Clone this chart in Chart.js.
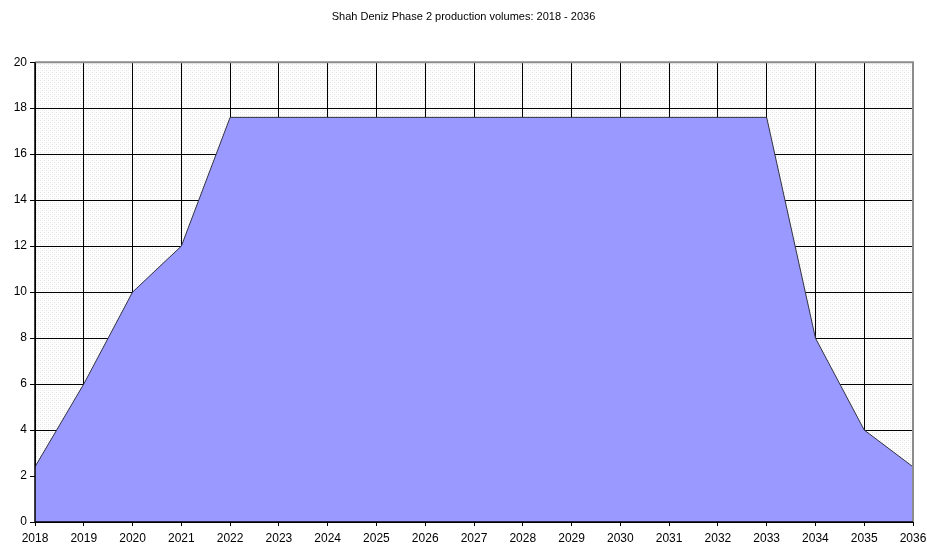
<!DOCTYPE html>
<html>
<head>
<meta charset="utf-8">
<script src="https://cdn.jsdelivr.net/npm/chart.js@4"></script>
<style>
  html, body { margin: 0; padding: 0; background: #fff; }
  #wrap { width: 927px; height: 545px; }
</style>
</head>
<body>
<div id="wrap"><canvas id="chartGas"></canvas></div>
<script>
// data
const years = ['2018','2019','2020','2021','2022','2023','2024','2025','2026','2027',
  '2028','2029','2030','2031','2032','2033','2034','2035','2036']
const volumes = [2.4, 6, 10, 12, 17.6, 17.6, 17.6, 17.6, 17.6, 17.6,
  17.6, 17.6, 17.6, 17.6, 17.6, 17.6, 8, 4, 2.4]
const subtitleText = 'Shah Deniz Phase 2 production volumes: 2018 - 2036'

// small dotted pattern for the plot background
makePattern = function(){
  const c = document.createElement('canvas')
  c.width = 4; c.height = 4
  const ctx = c.getContext('2d')
  ctx.fillStyle = '#ffffff'
  ctx.fillRect(0, 0, 4, 4)
  ctx.fillStyle = '#e4e4e4'
  ctx.fillRect(0, 0, 1, 1)
  ctx.fillRect(2, 2, 1, 1)
  ctx.fillStyle = '#f0f0f0'
  ctx.fillRect(2, 0, 1, 1)
  ctx.fillRect(0, 2, 1, 1)
  return c
}

const plotBg = {
  id: 'plotBg',
  beforeDraw(chart){
    const {ctx, chartArea: a} = chart
    ctx.save()
    ctx.fillStyle = ctx.createPattern(makePattern(), 'repeat')
    ctx.fillRect(a.left, a.top, a.right - a.left, a.bottom - a.top)
    ctx.restore()
  },
  afterDraw(chart){
    const {ctx, chartArea: a} = chart
    ctx.save()
    ctx.strokeStyle = '#8c8c8c'
    ctx.lineWidth = 2
    ctx.beginPath()
    ctx.moveTo(a.left, a.top)
    ctx.lineTo(a.right, a.top)
    ctx.lineTo(a.right, a.bottom)
    ctx.stroke()
    ctx.strokeStyle = '#000'
    ctx.lineWidth = 1.5
    ctx.beginPath()
    ctx.moveTo(a.left, a.top)
    ctx.lineTo(a.left, a.bottom)
    ctx.lineTo(a.right, a.bottom)
    ctx.stroke()
    ctx.restore()
  }
}

const tickFont = { family: 'Arial, "Liberation Sans", sans-serif', size: 12 }

const chartGas = {
  type: 'line',
  data: {
    labels: years,
    datasets: [{
      data: volumes,
      fill: 'origin',
      backgroundColor: '#9999ff',
      borderColor: '#333344',
      borderWidth: 1,
      pointRadius: 0,
      tension: 0
    }]
  },
  options: {
    responsive: false,
    animation: false,
    layout: { padding: { top: 0, right: 0, bottom: 0, left: 0 } },
    plugins: {
      legend: { display: false },
      tooltip: { enabled: false },
      title: {
        display: true,
        text: subtitleText,
        color: '#000',
        font: { family: 'Arial, "Liberation Sans", sans-serif', size: 11, weight: 'normal' },
        padding: { top: 10, bottom: 39 }
      }
    },
    scales: {
      x: {
        offset: false,
        grid: { color: '#000', lineWidth: 1, tickLength: 4, drawOnChartArea: true },
        border: { display: false },
        ticks: { color: '#000', font: tickFont, maxRotation: 0, autoSkip: false, padding: 5 },
        afterFit(scale){
          scale.height = 23
          scale.paddingRight = 14
        }
      },
      y: {
        min: 0,
        max: 20,
        grid: { color: '#000', lineWidth: 1, tickLength: 5 },
        border: { display: false },
        ticks: { color: '#000', font: tickFont, stepSize: 2, padding: 3 },
        afterFit(scale){ scale.width = 35 }
      }
    }
  },
  plugins: [plotBg]
}

window.onload = () => {
  const canvas = document.getElementById('chartGas')
  canvas.width = 927
  canvas.height = 545
  new Chart(canvas, chartGas)
}
</script>
</body>
</html>
